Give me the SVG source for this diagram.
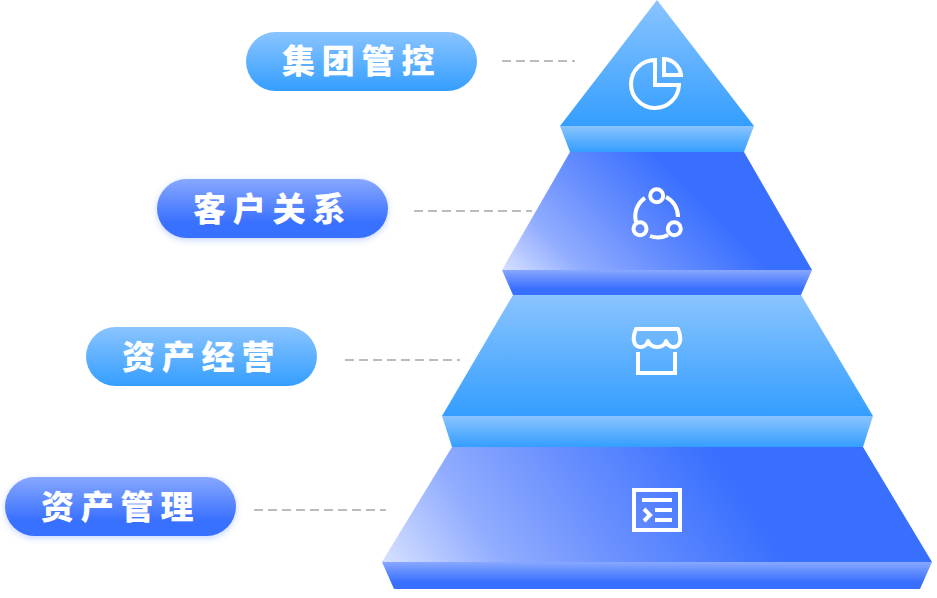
<svg xmlns="http://www.w3.org/2000/svg" width="937" height="598" viewBox="0 0 937 598">
<style>
.lbl{font-family:"Noto Sans CJK SC","Noto Sans",sans-serif;font-size:33px;font-weight:900;letter-spacing:6.800px;fill:#fff}
.dash{fill:none;stroke:#bbb;stroke-width:2;stroke-dasharray:9 5}
.ic{fill:none;stroke:#fff;stroke-width:4}
.ic2{fill:none;stroke:#fff;stroke-width:4}
.l{fill:url(#gl)}
.d{fill:url(#gd)}
</style>
<defs>
<linearGradient id="gl" x1="0" y1="0" x2="0" y2="1"><stop offset="0" stop-color="#8ac4ff"/><stop offset="1" stop-color="#349eff"/></linearGradient>
<linearGradient id="gd" x1="0" y1="0" x2="0" y2="1"><stop offset="0" stop-color="#88a8ff"/><stop offset=".75" stop-color="#386fff"/><stop offset="1" stop-color="#386fff"/></linearGradient>
<linearGradient id="g2" gradientUnits="userSpaceOnUse" x1="503" y1="270" x2="637" y2="136"><stop offset="0" stop-color="#d6e0ff"/><stop offset=".3" stop-color="#90acff"/><stop offset=".6" stop-color="#6a90ff"/><stop offset="1" stop-color="#386fff"/></linearGradient>
<linearGradient id="g4" gradientUnits="userSpaceOnUse" x1="383" y1="562" x2="666" y2="377"><stop offset="0" stop-color="#d6e0ff"/><stop offset=".3" stop-color="#90acff"/><stop offset=".6" stop-color="#6a90ff"/><stop offset="1" stop-color="#386fff"/></linearGradient>
<filter id="sh" x="-10%" y="-20%" width="120%" height="150%"><feDropShadow dx="0" dy="2" stdDeviation="3" flood-color="#386fff" flood-opacity=".3"/></filter>
</defs>
<g id="connectors">
<path class="dash" d="M502 61H575"/>
<path class="dash" d="M414 211H532"/>
<path class="dash" d="M345 360H460"/>
<path class="dash" d="M254 510H386"/>
</g>
<g id="tier-1">
<path class="l" d="M657 0L754 126H560Z"/>
<path class="l" d="M560 126H754L744 152H570Z"/>
<g class="ic"><path d="M655 60A24 24 0 1 0 679 85H655V60Z"/><path d="M664 59A18 18 0 0 1 681 75H664Z"/></g>
</g>
<g id="tier-2">
<path fill="url(#g2)" d="M570 152H744L812 270H502Z"/>
<path class="d" d="M502 270H812L801 295H513Z"/>
<g class="ic2"><circle cx="656.700" cy="195.700" r="6.500"/><circle cx="640" cy="228.700" r="6.500"/><circle cx="674.300" cy="228.700" r="6.500"/><path d="M645 198A22 22 0 0 0 636 222"/><path d="M666 197A22 22 0 0 1 678 217"/><path d="M650 236A22 22 0 0 0 668 235"/></g>
</g>
<g id="tier-3">
<path class="l" d="M513 295H801L873 416H442Z"/>
<path class="l" d="M442 416H873L863 447H452Z"/>
<g class="ic"><path d="M636 329H678Q681 336 680 341C679 349 669 349 666 341C664 349 651 349 648 341C646 349 635 349 634 341Q633 336 636 329Z" stroke-linejoin="round"/><path d="M638 352V373H675V352"/></g>
</g>
<g id="tier-4">
<path fill="url(#g4)" d="M452 447H863L932 562H382Z"/>
<path class="d" d="M382 562H932L920 589H394Z"/>
<g class="ic"><rect x="634" y="490" width="46" height="40"/><path d="M642 500H672M655 510H672M655 520H672M644 509L650 515L644 521"/></g>
</g>
<g id="label-1"><rect class="l" x="246" y="32" width="231" height="59" rx="29.500"/><text class="lbl" x="282" y="73">集团管控</text></g>
<g id="label-2"><rect class="d" filter="url(#sh)" x="157" y="179" width="231" height="59" rx="29.500"/><text class="lbl" x="193" y="221">客户关系</text></g>
<g id="label-3"><rect class="l" x="86" y="327" width="231" height="59" rx="29.500"/><text class="lbl" x="122" y="369">资产经营</text></g>
<g id="label-4"><rect class="d" filter="url(#sh)" x="5" y="477" width="231" height="59" rx="29.500"/><text class="lbl" x="41" y="519">资产管理</text></g>
</svg>
